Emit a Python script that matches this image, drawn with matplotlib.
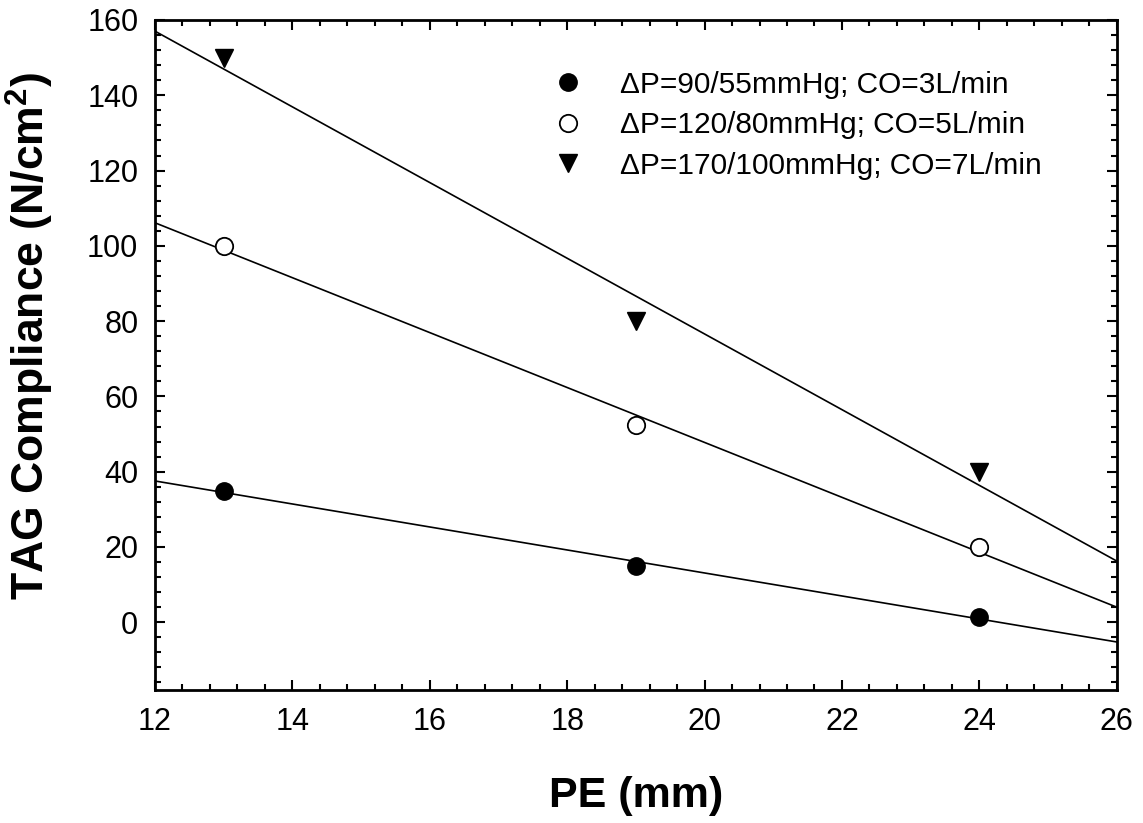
import numpy as np
import matplotlib.pyplot as plt
from matplotlib.ticker import MultipleLocator

plt.rcParams['font.family'] = ['Liberation Sans', 'DejaVu Sans']
plt.rcParams['mathtext.fontset'] = 'custom'
plt.rcParams['mathtext.rm'] = 'Liberation Sans'
plt.rcParams['mathtext.bf'] = 'Liberation Sans:bold'

# data
pe = [13, 19, 24]
low = [35, 15, 1.5]
mid = [100, 52.5, 20]
high = [150, 80, 40]
labels = ['ΔP=90/55mmHg; CO=3L/min',
          'ΔP=120/80mmHg; CO=5L/min',
          'ΔP=170/100mmHg; CO=7L/min']

fig = plt.figure(figsize=(11.43, 8.23), dpi=100)
ax = fig.add_axes([0.1356, 0.1616, 0.977 - 0.1356, 0.9757 - 0.1616])

xfit = np.array([12, 26])
for y in (low, mid, high):
    b, a = np.polyfit(pe, y, 1)
    ax.plot(xfit, a + b * xfit, color='black', lw=1.2, zorder=2)

ax.plot(pe, low, 'o', color='black', ms=12.5, ls='none', label=labels[0], zorder=3)
ax.plot(pe, mid, 'o', mfc='white', mec='black', mew=1.3, ms=12.5, ls='none', label=labels[1], zorder=3)
ax.plot(pe, high, 'v', color='black', ms=12.5, ls='none', label=labels[2], zorder=3)

ax.set_xlim(12, 26)
ax.set_ylim(-18, 160)
ax.xaxis.set_major_locator(MultipleLocator(2))
ax.xaxis.set_minor_locator(MultipleLocator(0.4))
ax.yaxis.set_minor_locator(MultipleLocator(4))
ax.set_yticks(np.arange(0, 161, 20))
ax.tick_params(which='both', direction='in', top=True, right=True, width=1.5, labelsize=22)
ax.tick_params(which='major', length=7, pad=12)
ax.tick_params(which='minor', length=4.5)
for s in ax.spines.values():
    s.set_linewidth(2)

ax.set_xlabel('PE (mm)', fontsize=31, fontweight='bold', labelpad=28)
ax.set_ylabel(r'TAG Compliance (N/cm$^\mathbf{2}$)', fontsize=32, fontweight='bold')
ax.yaxis.set_label_coords(-0.103, 0.528)

ax.legend(frameon=False, loc='upper left', bbox_to_anchor=(0.386, 0.942), fontsize=21.5,
          handletextpad=0.75, labelspacing=0.42, borderaxespad=0)

fig.savefig('out.png', dpi=100)
